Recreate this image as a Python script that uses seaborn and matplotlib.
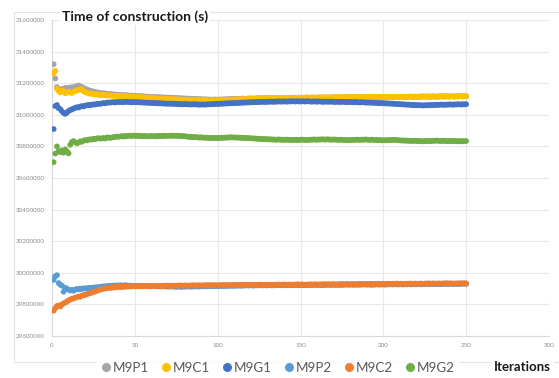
import numpy as np
import pandas as pd
import matplotlib
matplotlib.use("Agg")
import matplotlib.pyplot as plt
from matplotlib.lines import Line2D
from matplotlib.patches import Rectangle
import seaborn as sns

# Construction time per iteration, in thousands of seconds (iterations 1..250)
m9p1 = [
    31320, 31230, 31175, 31160, 31150, 31165, 31158, 31170, 31166, 31172,
    31168, 31175, 31171, 31178, 31182, 31185, 31180, 31176, 31170, 31165,
    31160, 31156, 31152, 31150, 31147, 31145, 31142, 31140, 31138, 31137,
    31135, 31136, 31133, 31131, 31132, 31130, 31128, 31129, 31127, 31126,
    31125, 31126, 31124, 31123, 31124, 31122, 31121, 31122, 31120, 31119,
    31120, 31118, 31117, 31118, 31116, 31115, 31116, 31114, 31113, 31114,
    31113, 31112, 31111, 31112, 31110, 31111, 31109, 31110, 31108, 31109,
    31107, 31108, 31106, 31107, 31105, 31106, 31104, 31105, 31103, 31104,
    31102, 31103, 31101, 31102, 31100, 31101, 31099, 31100, 31098, 31099,
    31098, 31097, 31098, 31096, 31097, 31095, 31096, 31097, 31095, 31096,
    31097, 31096, 31098, 31097, 31099, 31098, 31100, 31099, 31101, 31100,
    31101, 31102, 31100, 31101, 31103, 31102, 31101, 31103, 31102, 31104,
    31103, 31102, 31104, 31103, 31105, 31104, 31103, 31105, 31104, 31106,
    31105, 31104, 31106, 31105, 31104, 31106, 31105, 31107, 31106, 31105,
    31107, 31106, 31105, 31107, 31106, 31108, 31107, 31106, 31108, 31107,
    31106, 31108, 31107, 31109, 31108, 31107, 31109, 31108, 31107, 31109,
    31108, 31110, 31109, 31108, 31110, 31109, 31108, 31110, 31109, 31111,
    31110, 31109, 31111, 31110, 31109, 31111, 31110, 31112, 31111, 31110,
    31111, 31110, 31112, 31111, 31110, 31112, 31111, 31110, 31112, 31111,
    31110, 31112, 31111, 31113, 31112, 31111, 31113, 31112, 31111, 31113,
    31112, 31111, 31113, 31112, 31114, 31113, 31112, 31114, 31113, 31112,
    31114, 31113, 31112, 31114, 31113, 31115, 31114, 31113, 31115, 31114,
    31113, 31115, 31114, 31116, 31115, 31114, 31116, 31115, 31114, 31116,
    31115, 31114, 31116, 31115, 31117, 31116, 31115, 31117, 31116, 31115,
    31117, 31116, 31115, 31117, 31116, 31118, 31117, 31116, 31118, 31117,
]

m9c1 = [
    31262, 31278, 31165, 31150, 31142, 31155, 31148, 31136, 31140, 31146,
    31142, 31138, 31145, 31150, 31155, 31158, 31162, 31160, 31150, 31144,
    31140, 31136, 31133, 31135, 31130, 31128, 31130, 31127, 31125, 31126,
    31124, 31125, 31122, 31123, 31121, 31122, 31120, 31121, 31119, 31120,
    31118, 31119, 31117, 31118, 31116, 31115, 31116, 31114, 31113, 31112,
    31113, 31111, 31110, 31111, 31109, 31108, 31109, 31107, 31106, 31107,
    31105, 31104, 31105, 31103, 31102, 31103, 31101, 31100, 31101, 31099,
    31100, 31098, 31099, 31097, 31098, 31096, 31097, 31095, 31096, 31095,
    31094, 31095, 31093, 31094, 31092, 31093, 31094, 31092, 31093, 31091,
    31092, 31093, 31091, 31092, 31090, 31091, 31092, 31090, 31091, 31092,
    31093, 31092, 31094, 31093, 31095, 31094, 31096, 31095, 31097, 31096,
    31098, 31097, 31099, 31098, 31100, 31099, 31101, 31100, 31102, 31101,
    31103, 31102, 31103, 31104, 31103, 31105, 31104, 31105, 31106, 31105,
    31106, 31105, 31107, 31106, 31105, 31107, 31106, 31108, 31107, 31106,
    31108, 31107, 31106, 31108, 31107, 31109, 31108, 31107, 31109, 31108,
    31107, 31109, 31108, 31110, 31109, 31108, 31110, 31109, 31108, 31110,
    31109, 31111, 31110, 31109, 31111, 31110, 31109, 31111, 31110, 31112,
    31111, 31110, 31112, 31111, 31110, 31112, 31111, 31113, 31112, 31111,
    31112, 31111, 31113, 31112, 31111, 31113, 31112, 31111, 31113, 31112,
    31111, 31113, 31112, 31114, 31113, 31112, 31114, 31113, 31112, 31114,
    31113, 31112, 31114, 31113, 31115, 31114, 31113, 31115, 31114, 31113,
    31115, 31114, 31113, 31115, 31114, 31116, 31115, 31114, 31116, 31115,
    31114, 31116, 31115, 31117, 31116, 31115, 31117, 31116, 31115, 31117,
    31116, 31115, 31117, 31116, 31118, 31117, 31116, 31118, 31117, 31116,
    31118, 31117, 31116, 31118, 31117, 31119, 31118, 31117, 31119, 31118,
]

m9g1 = [
    30910, 31055, 31062, 31042, 31036, 31022, 31012, 31006, 31014, 31024,
    31030, 31034, 31040, 31044, 31048, 31046, 31052, 31055, 31053, 31058,
    31060, 31062, 31061, 31064, 31066, 31065, 31068, 31070, 31069, 31072,
    31074, 31073, 31076, 31078, 31077, 31079, 31080, 31078, 31081, 31080,
    31082, 31081, 31080, 31082, 31083, 31081, 31080, 31079, 31081, 31080,
    31079, 31080, 31078, 31079, 31077, 31078, 31076, 31077, 31075, 31076,
    31074, 31075, 31073, 31074, 31072, 31073, 31071, 31072, 31070, 31071,
    31070, 31071, 31069, 31070, 31068, 31069, 31067, 31068, 31066, 31067,
    31068, 31066, 31067, 31065, 31066, 31067, 31065, 31066, 31064, 31065,
    31066, 31064, 31065, 31067, 31066, 31068, 31067, 31069, 31068, 31070,
    31069, 31071, 31070, 31072, 31071, 31073, 31072, 31074, 31073, 31075,
    31074, 31076, 31075, 31077, 31076, 31078, 31077, 31079, 31078, 31080,
    31079, 31080, 31081, 31080, 31082, 31081, 31083, 31082, 31081, 31083,
    31082, 31084, 31083, 31082, 31084, 31083, 31085, 31084, 31083, 31085,
    31084, 31083, 31085, 31084, 31086, 31085, 31084, 31086, 31085, 31084,
    31086, 31085, 31084, 31086, 31085, 31084, 31083, 31085, 31084, 31083,
    31085, 31084, 31083, 31082, 31084, 31083, 31082, 31084, 31083, 31082,
    31081, 31083, 31082, 31081, 31083, 31082, 31081, 31080, 31082, 31081,
    31080, 31079, 31081, 31080, 31079, 31078, 31080, 31079, 31078, 31077,
    31078, 31077, 31076, 31077, 31075, 31076, 31074, 31075, 31073, 31074,
    31072, 31073, 31071, 31072, 31070, 31071, 31069, 31068, 31069, 31067,
    31066, 31067, 31065, 31064, 31065, 31063, 31062, 31063, 31061, 31062,
    31060, 31061, 31060, 31059, 31060, 31061, 31060, 31062, 31061, 31062,
    31063, 31062, 31064, 31063, 31065, 31064, 31063, 31065, 31064, 31066,
    31065, 31064, 31066, 31065, 31067, 31066, 31065, 31067, 31066, 31067,
]

m9p2 = [
    29955, 29978, 29985, 29935, 29925, 29918, 29880, 29905, 29900, 29893,
    29888, 29892, 29886, 29894, 29898, 29895, 29900, 29897, 29902, 29900,
    29902, 29904, 29903, 29906, 29905, 29908, 29907, 29910, 29909, 29912,
    29914, 29913, 29916, 29915, 29918, 29917, 29919, 29918, 29920, 29919,
    29921, 29920, 29919, 29921, 29920, 29918, 29919, 29917, 29918, 29916,
    29917, 29918, 29916, 29917, 29915, 29916, 29917, 29915, 29916, 29914,
    29915, 29916, 29914, 29915, 29913, 29914, 29915, 29913, 29914, 29912,
    29913, 29914, 29912, 29913, 29911, 29912, 29913, 29911, 29912, 29913,
    29912, 29914, 29913, 29912, 29914, 29913, 29915, 29914, 29913, 29915,
    29914, 29916, 29915, 29914, 29916, 29915, 29917, 29916, 29915, 29917,
    29916, 29918, 29917, 29916, 29918, 29917, 29919, 29918, 29917, 29919,
    29918, 29920, 29919, 29918, 29920, 29919, 29921, 29920, 29919, 29921,
    29920, 29919, 29921, 29920, 29922, 29921, 29920, 29922, 29921, 29920,
    29922, 29921, 29920, 29922, 29921, 29923, 29922, 29921, 29923, 29922,
    29921, 29923, 29922, 29921, 29923, 29922, 29924, 29923, 29922, 29924,
    29923, 29922, 29924, 29923, 29922, 29924, 29923, 29925, 29924, 29923,
    29924, 29923, 29922, 29924, 29923, 29925, 29924, 29923, 29925, 29924,
    29923, 29925, 29924, 29923, 29925, 29924, 29926, 29925, 29924, 29926,
    29925, 29924, 29926, 29925, 29924, 29926, 29925, 29927, 29926, 29925,
    29926, 29925, 29924, 29926, 29925, 29927, 29926, 29925, 29927, 29926,
    29925, 29927, 29926, 29928, 29927, 29926, 29928, 29927, 29926, 29928,
    29927, 29926, 29928, 29927, 29929, 29928, 29927, 29929, 29928, 29927,
    29929, 29928, 29927, 29929, 29928, 29930, 29929, 29928, 29930, 29929,
    29928, 29930, 29929, 29928, 29930, 29929, 29931, 29930, 29929, 29931,
    29930, 29929, 29931, 29930, 29929, 29931, 29930, 29932, 29931, 29930,
]

m9c2 = [
    29760, 29776, 29790, 29793, 29787, 29800, 29806, 29812, 29818, 29825,
    29830, 29835, 29838, 29842, 29846, 29850, 29848, 29855, 29858, 29860,
    29864, 29868, 29872, 29875, 29878, 29882, 29886, 29890, 29893, 29897,
    29899, 29901, 29903, 29904, 29906, 29905, 29907, 29908, 29909, 29910,
    29911, 29910, 29912, 29913, 29912, 29914, 29913, 29915, 29914, 29915,
    29915, 29916, 29914, 29915, 29916, 29915, 29917, 29916, 29915, 29917,
    29916, 29917, 29916, 29918, 29917, 29916, 29918, 29917, 29919, 29918,
    29917, 29919, 29918, 29917, 29919, 29918, 29920, 29919, 29918, 29920,
    29919, 29918, 29920, 29919, 29921, 29920, 29919, 29921, 29920, 29919,
    29921, 29920, 29922, 29921, 29920, 29922, 29921, 29920, 29922, 29921,
    29920, 29922, 29921, 29923, 29922, 29921, 29923, 29922, 29921, 29923,
    29922, 29921, 29923, 29922, 29924, 29923, 29922, 29924, 29923, 29922,
    29924, 29923, 29922, 29924, 29923, 29925, 29924, 29923, 29925, 29924,
    29923, 29925, 29924, 29923, 29925, 29924, 29926, 29925, 29924, 29926,
    29925, 29924, 29926, 29925, 29924, 29926, 29925, 29927, 29926, 29925,
    29926, 29925, 29924, 29926, 29925, 29927, 29926, 29925, 29927, 29926,
    29925, 29927, 29926, 29928, 29927, 29926, 29928, 29927, 29926, 29928,
    29927, 29926, 29928, 29927, 29929, 29928, 29927, 29929, 29928, 29927,
    29929, 29928, 29927, 29929, 29928, 29930, 29929, 29928, 29930, 29929,
    29928, 29930, 29929, 29928, 29930, 29929, 29931, 29930, 29929, 29931,
    29930, 29929, 29931, 29930, 29929, 29931, 29930, 29932, 29931, 29930,
    29931, 29930, 29929, 29931, 29930, 29932, 29931, 29930, 29932, 29931,
    29930, 29932, 29931, 29930, 29932, 29931, 29933, 29932, 29931, 29933,
    29932, 29931, 29933, 29932, 29931, 29933, 29932, 29934, 29933, 29932,
    29933, 29932, 29931, 29933, 29932, 29934, 29933, 29932, 29934, 29933,
]

m9g2 = [
    30700, 30755, 30800, 30770, 30764, 30775, 30760, 30780, 30770, 30756,
    30810, 30828, 30834, 30826, 30820, 30825, 30832, 30829, 30836, 30840,
    30838, 30842, 30845, 30843, 30848, 30846, 30850, 30852, 30849, 30851,
    30853, 30850, 30855, 30857, 30854, 30856, 30858, 30860, 30862, 30861,
    30863, 30865, 30862, 30866, 30864, 30867, 30868, 30866, 30869, 30867,
    30866, 30868, 30865, 30867, 30864, 30866, 30863, 30865, 30864, 30866,
    30865, 30863, 30866, 30864, 30867, 30865, 30866, 30868, 30866, 30867,
    30868, 30866, 30869, 30867, 30868, 30866, 30867, 30865, 30866, 30864,
    30863, 30862, 30860, 30861, 30859, 30858, 30860, 30857, 30856, 30858,
    30855, 30856, 30854, 30855, 30853, 30854, 30852, 30853, 30854, 30852,
    30853, 30855, 30854, 30856, 30855, 30857, 30856, 30858, 30857, 30856,
    30857, 30855, 30856, 30854, 30855, 30853, 30854, 30852, 30853, 30851,
    30850, 30851, 30849, 30848, 30849, 30847, 30846, 30847, 30845, 30846,
    30844, 30845, 30843, 30844, 30842, 30843, 30844, 30842, 30843, 30841,
    30842, 30843, 30841, 30842, 30840, 30841, 30842, 30840, 30841, 30842,
    30843, 30841, 30842, 30840, 30841, 30843, 30842, 30844, 30843, 30842,
    30844, 30843, 30845, 30844, 30843, 30845, 30844, 30843, 30842, 30844,
    30843, 30842, 30841, 30843, 30842, 30840, 30841, 30839, 30840, 30841,
    30840, 30842, 30841, 30843, 30842, 30841, 30843, 30842, 30844, 30843,
    30842, 30841, 30843, 30842, 30840, 30841, 30839, 30840, 30838, 30839,
    30838, 30840, 30839, 30841, 30840, 30842, 30841, 30840, 30839, 30838,
    30837, 30838, 30836, 30837, 30835, 30836, 30834, 30835, 30836, 30834,
    30835, 30833, 30834, 30832, 30833, 30834, 30835, 30833, 30834, 30836,
    30835, 30837, 30836, 30835, 30834, 30836, 30835, 30834, 30833, 30835,
    30834, 30833, 30835, 30834, 30832, 30833, 30834, 30832, 30833, 30834,
]

series_names = ["M9P1", "M9C1", "M9G1", "M9P2", "M9C2", "M9G2"]
series_values = [m9p1, m9c1, m9g1, m9p2, m9c2, m9g2]
series_colors = ["#A5A5A5", "#FFC000", "#4472C4", "#5B9BD5", "#ED7D31", "#70AD47"]

x_ticks = [0, 50, 100, 150, 200, 250, 300]
y_ticks = [29600000, 29800000, 30000000, 30200000, 30400000, 30600000,
           30800000, 31000000, 31200000, 31400000, 31600000]

# Long-form table: one row per (series, iteration)
frames = []
for name, vals in zip(series_names, series_values):
    frames.append(pd.DataFrame({
        "Iteration": np.arange(1, len(vals) + 1),
        "Time": np.asarray(vals, dtype=float) * 1000.0,
        "Series": name,
    }))
df = pd.concat(frames, ignore_index=True)

sns.set_style("white")
plt.rcParams["font.family"] = ["Lato", "DejaVu Sans"]

W, H = 559, 378
fig = plt.figure(figsize=(W / 100, H / 100), dpi=100)
fig.patch.set_facecolor("white")

# Light outer frame of the chart area
fig.add_artist(Rectangle((14 / W, 1 - 362 / H), (W + 10 - 14) / W, (362 - 12) / H,
                         transform=fig.transFigure, fill=False,
                         edgecolor="#e3e3e3", linewidth=0.8, zorder=0))

ax = fig.add_axes([52 / W, 1 - 336 / H, (549 - 52) / W, (336 - 20) / H])
ax.set_facecolor("white")

palette = dict(zip(series_names, series_colors))
sns.scatterplot(data=df, x="Iteration", y="Time", hue="Series",
                hue_order=series_names, palette=palette, s=17,
                linewidth=0, edgecolor="none", legend=False, ax=ax, zorder=3)

ax.set_xlim(0, 300)
ax.set_ylim(y_ticks[0], y_ticks[-1])
ax.set_xticks(x_ticks)
ax.set_yticks(y_ticks)
ax.set_xticklabels([str(t) for t in x_ticks])
ax.set_yticklabels([str(t) for t in y_ticks])
ax.tick_params(axis="both", length=0, labelsize=4.5, labelcolor="#8a8a8a", pad=5)
ax.set_xlabel("")
ax.set_ylabel("")
ax.grid(True, color="#e8e8e8", linewidth=0.8)
ax.set_axisbelow(True)
for side in ["top", "right"]:
    ax.spines[side].set_visible(False)
for side in ["left", "bottom"]:
    ax.spines[side].set_color("#d9d9d9")
    ax.spines[side].set_linewidth(0.8)

fig.text(62 / W, 1 - 17 / H, "Time of construction (s)", fontsize=10,
         fontweight="bold", color="#1a1a1a", ha="left", va="center",
         bbox=dict(facecolor="white", edgecolor="none", pad=1.5))

fig.text(551 / W, 1 - 367 / H, "Iterations", fontsize=9.5, fontweight="bold",
         color="#1a1a1a", ha="right", va="center",
         bbox=dict(facecolor="white", edgecolor="none", pad=2))

handles = [Line2D([0], [0], marker="o", linestyle="none", markersize=6.5,
                  markerfacecolor=c, markeredgecolor="none") for c in series_colors]
leg = fig.legend(handles, series_names, loc="center", ncol=6,
                 bbox_to_anchor=(277 / W, 1 - 368 / H), frameon=True,
                 facecolor="white", edgecolor="white", fontsize=9.6,
                 handletextpad=0.05, columnspacing=0.75, borderpad=0.2,
                 handlelength=1.0)
for t in leg.get_texts():
    t.set_color("#595959")

fig.savefig("out.png", dpi=100, facecolor="white")
